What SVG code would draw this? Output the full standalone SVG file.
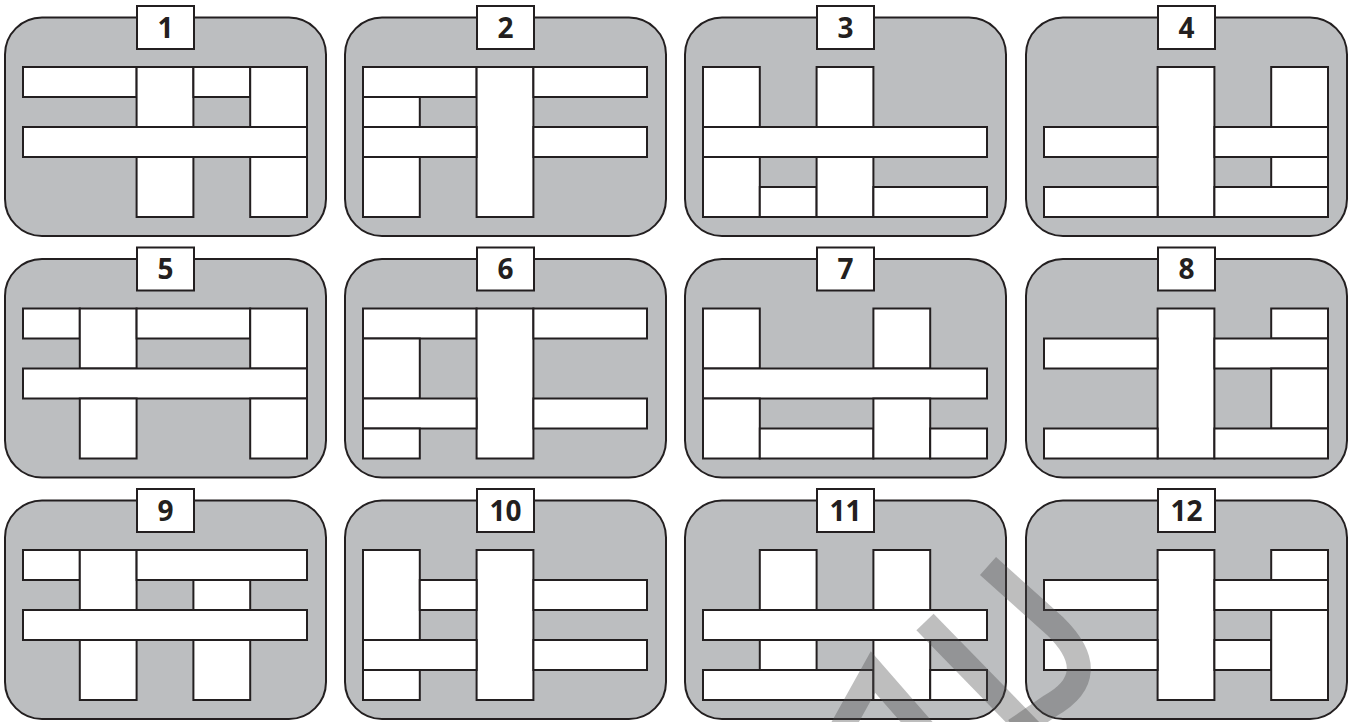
<svg xmlns="http://www.w3.org/2000/svg" width="1356" height="722" viewBox="0 0 1356 722">
<style>
.bg{fill:#bcbec0;stroke:#231f20;stroke-width:2}
.lb{fill:#ffffff;stroke:#231f20;stroke-width:2}
.p{fill:#ffffff;stroke:#231f20;stroke-width:2}
.t{font-family:"Open Sans","Liberation Sans",sans-serif;font-weight:700;font-size:28px;fill:#231f20;text-anchor:middle}
.wm{fill:none;stroke:#4c4c4c;stroke-opacity:0.36;stroke-width:24}
</style>
<rect width="1356" height="722" fill="#ffffff"/>
<g id="panel1" transform="translate(0,0)">
<rect class="bg" x="5" y="17.5" width="321" height="218.5" rx="37"/>
<rect class="lb" x="137" y="6" width="57" height="43"/><text class="t" x="165.5" y="37.5">1</text>
<rect class="p" x="23" y="67" width="113.6" height="30"/>
<rect class="p" x="136.6" y="67" width="56.8" height="60"/>
<rect class="p" x="193.4" y="67" width="56.8" height="30"/>
<rect class="p" x="250.2" y="67" width="56.8" height="60"/>
<rect class="p" x="23" y="127" width="284" height="30"/>
<rect class="p" x="136.6" y="157" width="56.8" height="60"/>
<rect class="p" x="250.2" y="157" width="56.8" height="60"/>
</g>
<g id="panel2" transform="translate(340,0)">
<rect class="bg" x="5" y="17.5" width="321" height="218.5" rx="37"/>
<rect class="lb" x="137" y="6" width="57" height="43"/><text class="t" x="165.5" y="37.5">2</text>
<rect class="p" x="23" y="67" width="113.6" height="30"/>
<rect class="p" x="136.6" y="67" width="56.8" height="150"/>
<rect class="p" x="193.4" y="67" width="113.6" height="30"/>
<rect class="p" x="23" y="97" width="56.8" height="30"/>
<rect class="p" x="23" y="127" width="113.6" height="30"/>
<rect class="p" x="193.4" y="127" width="113.6" height="30"/>
<rect class="p" x="23" y="157" width="56.8" height="60"/>
</g>
<g id="panel3" transform="translate(680,0)">
<rect class="bg" x="5" y="17.5" width="321" height="218.5" rx="37"/>
<rect class="lb" x="137" y="6" width="57" height="43"/><text class="t" x="165.5" y="37.5">3</text>
<rect class="p" x="23" y="67" width="56.8" height="60"/>
<rect class="p" x="136.6" y="67" width="56.8" height="60"/>
<rect class="p" x="23" y="127" width="284" height="30"/>
<rect class="p" x="23" y="157" width="56.8" height="60"/>
<rect class="p" x="79.8" y="187" width="56.8" height="30"/>
<rect class="p" x="136.6" y="157" width="56.8" height="60"/>
<rect class="p" x="193.4" y="187" width="113.6" height="30"/>
</g>
<g id="panel4" transform="translate(1021,0)">
<rect class="bg" x="5" y="17.5" width="321" height="218.5" rx="37"/>
<rect class="lb" x="137" y="6" width="57" height="43"/><text class="t" x="165.5" y="37.5">4</text>
<rect class="p" x="136.6" y="67" width="56.8" height="150"/>
<rect class="p" x="250.2" y="67" width="56.8" height="60"/>
<rect class="p" x="23" y="127" width="113.6" height="30"/>
<rect class="p" x="193.4" y="127" width="113.6" height="30"/>
<rect class="p" x="250.2" y="157" width="56.8" height="30"/>
<rect class="p" x="23" y="187" width="113.6" height="30"/>
<rect class="p" x="193.4" y="187" width="113.6" height="30"/>
</g>
<g id="panel5" transform="translate(0,241.5)">
<rect class="bg" x="5" y="17.5" width="321" height="218.5" rx="37"/>
<rect class="lb" x="137" y="6" width="57" height="43"/><text class="t" x="165.5" y="37.5">5</text>
<rect class="p" x="23" y="67" width="56.8" height="30"/>
<rect class="p" x="79.8" y="67" width="56.8" height="60"/>
<rect class="p" x="136.6" y="67" width="113.6" height="30"/>
<rect class="p" x="250.2" y="67" width="56.8" height="60"/>
<rect class="p" x="23" y="127" width="284" height="30"/>
<rect class="p" x="79.8" y="157" width="56.8" height="60"/>
<rect class="p" x="250.2" y="157" width="56.8" height="60"/>
</g>
<g id="panel6" transform="translate(340,241.5)">
<rect class="bg" x="5" y="17.5" width="321" height="218.5" rx="37"/>
<rect class="lb" x="137" y="6" width="57" height="43"/><text class="t" x="165.5" y="37.5">6</text>
<rect class="p" x="23" y="67" width="113.6" height="30"/>
<rect class="p" x="136.6" y="67" width="56.8" height="150"/>
<rect class="p" x="193.4" y="67" width="113.6" height="30"/>
<rect class="p" x="23" y="97" width="56.8" height="60"/>
<rect class="p" x="23" y="157" width="113.6" height="30"/>
<rect class="p" x="193.4" y="157" width="113.6" height="30"/>
<rect class="p" x="23" y="187" width="56.8" height="30"/>
</g>
<g id="panel7" transform="translate(680,241.5)">
<rect class="bg" x="5" y="17.5" width="321" height="218.5" rx="37"/>
<rect class="lb" x="137" y="6" width="57" height="43"/><text class="t" x="165.5" y="37.5">7</text>
<rect class="p" x="23" y="67" width="56.8" height="60"/>
<rect class="p" x="193.4" y="67" width="56.8" height="60"/>
<rect class="p" x="23" y="127" width="284" height="30"/>
<rect class="p" x="23" y="157" width="56.8" height="60"/>
<rect class="p" x="79.8" y="187" width="113.6" height="30"/>
<rect class="p" x="193.4" y="157" width="56.8" height="60"/>
<rect class="p" x="250.2" y="187" width="56.8" height="30"/>
</g>
<g id="panel8" transform="translate(1021,241.5)">
<rect class="bg" x="5" y="17.5" width="321" height="218.5" rx="37"/>
<rect class="lb" x="137" y="6" width="57" height="43"/><text class="t" x="165.5" y="37.5">8</text>
<rect class="p" x="136.6" y="67" width="56.8" height="150"/>
<rect class="p" x="250.2" y="67" width="56.8" height="30"/>
<rect class="p" x="23" y="97" width="113.6" height="30"/>
<rect class="p" x="193.4" y="97" width="113.6" height="30"/>
<rect class="p" x="250.2" y="127" width="56.8" height="60"/>
<rect class="p" x="23" y="187" width="113.6" height="30"/>
<rect class="p" x="193.4" y="187" width="113.6" height="30"/>
</g>
<g id="panel9" transform="translate(0,483)">
<rect class="bg" x="5" y="17.5" width="321" height="218.5" rx="37"/>
<rect class="lb" x="137" y="6" width="57" height="43"/><text class="t" x="165.5" y="37.5">9</text>
<rect class="p" x="23" y="67" width="56.8" height="30"/>
<rect class="p" x="79.8" y="67" width="56.8" height="60"/>
<rect class="p" x="136.6" y="67" width="170.4" height="30"/>
<rect class="p" x="193.4" y="97" width="56.8" height="30"/>
<rect class="p" x="23" y="127" width="284" height="30"/>
<rect class="p" x="79.8" y="157" width="56.8" height="60"/>
<rect class="p" x="193.4" y="157" width="56.8" height="60"/>
</g>
<g id="panel10" transform="translate(340,483)">
<rect class="bg" x="5" y="17.5" width="321" height="218.5" rx="37"/>
<rect class="lb" x="137" y="6" width="57" height="43"/><text class="t" x="165.5" y="37.5">10</text>
<rect class="p" x="23" y="67" width="56.8" height="90"/>
<rect class="p" x="136.6" y="67" width="56.8" height="150"/>
<rect class="p" x="79.8" y="97" width="56.8" height="30"/>
<rect class="p" x="193.4" y="97" width="113.6" height="30"/>
<rect class="p" x="23" y="157" width="113.6" height="30"/>
<rect class="p" x="193.4" y="157" width="113.6" height="30"/>
<rect class="p" x="23" y="187" width="56.8" height="30"/>
</g>
<g id="panel11" transform="translate(680,483)">
<rect class="bg" x="5" y="17.5" width="321" height="218.5" rx="37"/>
<rect class="lb" x="137" y="6" width="57" height="43"/><text class="t" x="165.5" y="37.5">11</text>
<rect class="p" x="79.8" y="67" width="56.8" height="60"/>
<rect class="p" x="193.4" y="67" width="56.8" height="60"/>
<rect class="p" x="23" y="127" width="284" height="30"/>
<rect class="p" x="79.8" y="157" width="56.8" height="30"/>
<rect class="p" x="23" y="187" width="170.4" height="30"/>
<rect class="p" x="193.4" y="157" width="56.8" height="60"/>
<rect class="p" x="250.2" y="187" width="56.8" height="30"/>
</g>
<g id="panel12" transform="translate(1021,483)">
<rect class="bg" x="5" y="17.5" width="321" height="218.5" rx="37"/>
<rect class="lb" x="137" y="6" width="57" height="43"/><text class="t" x="165.5" y="37.5">12</text>
<rect class="p" x="136.6" y="67" width="56.8" height="150"/>
<rect class="p" x="250.2" y="67" width="56.8" height="30"/>
<rect class="p" x="23" y="97" width="113.6" height="30"/>
<rect class="p" x="193.4" y="97" width="113.6" height="30"/>
<rect class="p" x="23" y="157" width="113.6" height="30"/>
<rect class="p" x="193.4" y="157" width="56.8" height="30"/>
<rect class="p" x="250.2" y="127" width="56.8" height="90"/>
</g>
<g id="watermark">
<path class="wm" d="M838,735 L873,672 L928,735"/>
<path class="wm" d="M925,622 L1035,735"/>
<path class="wm" d="M988,566 L1055,626 Q1105,675 1050,706 L1015,730"/>
</g>
</svg>
